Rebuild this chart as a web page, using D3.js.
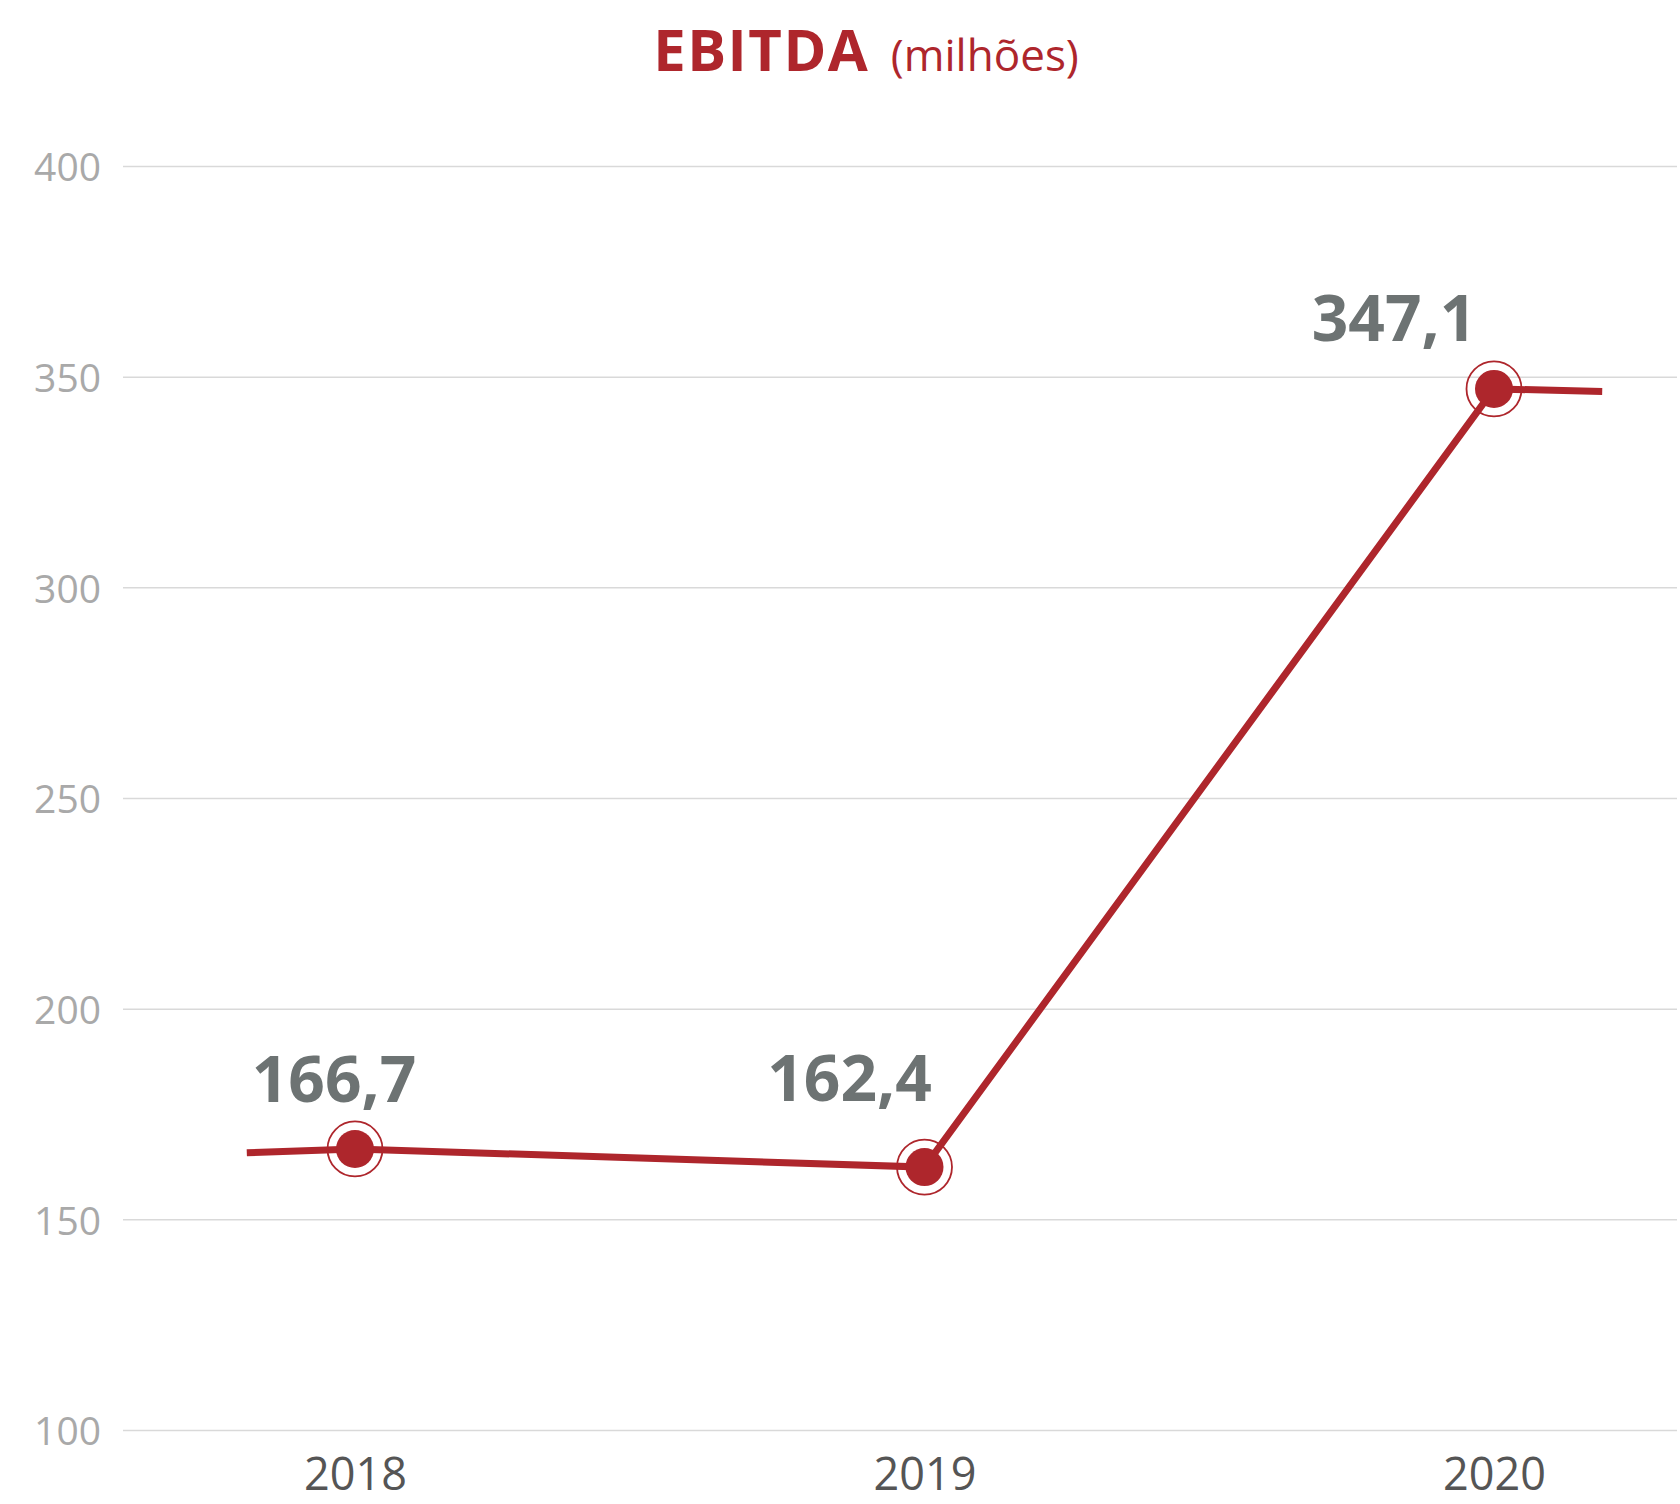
<!DOCTYPE html>
<html>
<head>
<meta charset="utf-8">
<script src="https://cdn.jsdelivr.net/npm/d3@7"></script>
<style>
  body { margin: 0; background: #fff; }
  svg { display: block; font-family: "Open Sans", sans-serif; }
</style>
</head>
<body>
<div id="chart-area"></div>
<script>
// data
var years = [2018, 2019, 2020];
var ebitda = [166.7, 162.4, 347.1];
var valueLabels = ["166,7", "162,4", "347,1"];
var yTicks = [100, 150, 200, 250, 300, 350, 400];
// line runs a bit past the first and last year
var lineYears = [2017.81, 2018, 2019, 2020, 2020.19];
var lineValues = [165.8, 166.7, 162.4, 347.1, 346.5];

var width = 1680, height = 1504;
var red = "#ae262c";
var font = "'Open Sans', sans-serif";

var svg = d3.select("#chart-area").append("svg")
    .attr("width", width)
    .attr("height", height);

var x = d3.scaleLinear()
    .domain([2018, 2020])
    .range([355, 1494]);

var y = d3.scaleLinear()
    .domain([100, 400])
    .range([1430, 166]);

// title
var title = svg.append("text")
    .attr("x", 866)
    .attr("y", 71)
    .attr("text-anchor", "middle")
    .attr("fill", red)
    .attr("font-size", "56px");
title.append("tspan").attr("font-weight", "bold").attr("font-size", "58px")
    .attr("letter-spacing", "1.5px").text("EBITDA");
title.append("tspan").attr("font-weight", "normal").attr("font-size", "44px")
    .attr("dx", 10).text(" (milhões)");

// grid + y labels
var leftAxis = d3.axisLeft(y)
    .tickValues(yTicks)
    .tickSize(-1554)
    .tickPadding(22)
    .tickFormat(d3.format("d"));

svg.append("g")
    .attr("class", "y axis")
    .attr("transform", "translate(123,0)")
    .call(leftAxis)
    .attr("font-family", font)
    .call(g => g.select(".domain").remove())
    .call(g => g.selectAll("line").attr("stroke", "#d9d9d9").attr("stroke-width", 1.5))
    .call(g => g.selectAll("text")
        .attr("fill", "#a9a9a9")
        .attr("font-size", "39px")
        .attr("dy", "0.38em")
        .attr("x", -22));

// x labels
var bottomAxis = d3.axisBottom(x)
    .tickValues(years)
    .tickSize(0)
    .tickFormat(d3.format("d"));

svg.append("g")
    .attr("class", "x axis")
    .attr("transform", "translate(0,1430)")
    .call(bottomAxis)
    .attr("font-family", font)
    .call(g => g.select(".domain").remove())
    .call(g => g.selectAll("text")
        .attr("fill", "#555")
        .attr("font-size", "45px")
        .attr("y", 0)
        .attr("dy", 0)
        .attr("transform", "translate(0,60)"));

// line
var line = d3.line()
    .x((d, i) => x(lineYears[i]))
    .y(d => y(d));

svg.append("path")
    .datum(lineValues)
    .attr("d", line)
    .attr("fill", "none")
    .attr("stroke", red)
    .attr("stroke-width", 7);

// markers
var pts = svg.selectAll(".pt")
    .data(ebitda)
    .enter().append("g")
    .attr("class", "pt")
    .attr("transform", (d, i) => "translate(" + x(years[i]) + "," + y(d) + ")");

pts.append("circle")
    .attr("r", 27.5)
    .attr("fill", "none")
    .attr("stroke", red)
    .attr("stroke-width", 1.8);

pts.append("circle")
    .attr("r", 19)
    .attr("fill", red);

// value labels
var labelDx = [-21, -75, -100];
var labelDy = [-47, -66, -48];

svg.selectAll(".val")
    .data(ebitda)
    .enter().append("text")
    .attr("class", "val")
    .attr("x", (d, i) => x(years[i]) + labelDx[i])
    .attr("y", (d, i) => y(d) + labelDy[i])
    .attr("text-anchor", "middle")
    .attr("font-size", "64px")
    .attr("font-weight", "bold")
    .attr("fill", "#6d7373")
    .text((d, i) => valueLabels[i]);
</script>
</body>
</html>
